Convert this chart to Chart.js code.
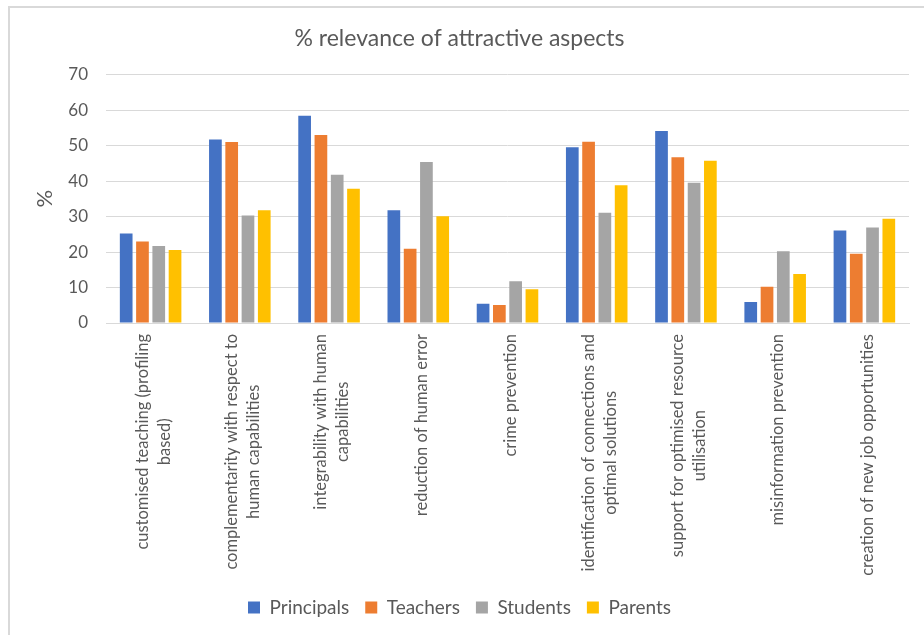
<!DOCTYPE html>
<html>
<head>
<meta charset="utf-8">
<script src="https://cdn.jsdelivr.net/npm/chart.js@4"></script>
<style>
  html, body { margin: 0; padding: 0; background: #ffffff; }
  #wrap { position: relative; width: 924px; height: 635px; overflow: hidden; }
  #frame { position: absolute; left: 8px; top: 6px; width: 1000px; height: 1000px; border-left: 2px solid #d9d9d9; border-top: 2px solid #d9d9d9; }
</style>
</head>
<body>
<div id="wrap">
  <div id="frame"></div>
  <canvas id="c" width="924" height="635" style="position:absolute;left:0;top:0;"></canvas>
</div>
<script>
const categories = [
  ["customised teaching (profiling", "based)"],
  ["complementarity with respect to", "human capabilities"],
  ["integrability with human", "capabilities"],
  ["reduction of human error"],
  ["crime prevention"],
  ["identification of connections and", "optimal solutions"],
  ["support for optimised resource", "utilisation"],
  ["misinformation prevention"],
  ["creation of new job opportunities"]
];
const principals = [25.2, 51.7, 58.4, 31.8, 5.4, 49.5, 54.1, 5.9, 26.1];
const teachers   = [23.0, 51.0, 53.0, 20.9, 5.1, 51.1, 46.7, 10.2, 19.5];
const students   = [21.7, 30.3, 41.8, 45.4, 11.8, 31.1, 39.5, 20.2, 26.9];
const parents    = [20.6, 31.8, 37.8, 30.1, 9.5, 38.8, 45.7, 13.8, 29.4];
const seriesNames = ["Principals", "Teachers", "Students", "Parents"];
const yTicks = [0, 10, 20, 30, 40, 50, 60, 70];
const chartTitle = "% relevance of attractive aspects";
const yTitle = "%";

const colors = ["#4472C4", "#ED7D31", "#A5A5A5", "#FFC000"];
const textColor = "#595959";
const FONT = "Lato, 'Open Sans', sans-serif";

const xLabelPlugin = {
  id: 'xLabels',
  afterDraw(chart) {
    const xs = chart.scales.x;
    const ctx = chart.ctx;
    const top = chart.chartArea.bottom + 11;
    const lh = 22;
    ctx.save();
    ctx.font = "16.5px " + FONT;
    ctx.fillStyle = textColor;
    ctx.textAlign = 'center';
    ctx.textBaseline = 'middle';
    categories.forEach((lines, i) => {
      const x = xs.getPixelForTick(i) + 3;
      const maxW = Math.max(...lines.map(l => ctx.measureText(l).width));
      ctx.save();
      ctx.translate(x, top);
      ctx.rotate(-Math.PI / 2);
      lines.forEach((l, k) => {
        ctx.fillText(l, -maxW / 2, (k - (lines.length - 1) / 2) * lh);
      });
      ctx.restore();
    });
    ctx.restore();
  }
};

const data = {
  labels: categories,
  datasets: [principals, teachers, students, parents].map((d, i) => ({
    label: seriesNames[i],
    data: d,
    backgroundColor: colors[i],
    borderWidth: 0,
    categoryPercentage: 0.73,
    barPercentage: 0.78
  }))
};

new Chart(document.getElementById('c'), {
  type: 'bar',
  data,
  plugins: [xLabelPlugin],
  options: {
    responsive: false,
    animation: false,
    layout: { padding: { left: 10, right: 15, top: 8, bottom: 8 } },
    plugins: {
      title: {
        display: true,
        text: chartTitle,
        color: textColor,
        font: { family: FONT, size: 23, weight: 'normal' },
        padding: { top: 17, bottom: 22 }
      },
      legend: {
        position: 'bottom',
        labels: {
          color: textColor,
          font: { family: FONT, size: 19 },
          boxWidth: 12,
          boxHeight: 12,
          padding: 16
        }
      },
      tooltip: { enabled: false }
    },
    scales: {
      x: {
        grid: { display: false },
        border: { display: true, color: '#d9d9d9' },
        ticks: { display: false },
        afterFit(scale) { scale.height = 259; }
      },
      y: {
        min: 0,
        max: 70,
        afterBuildTicks(scale) { scale.ticks = yTicks.map(v => ({ value: v })); },
        afterFit(scale) { scale.width = 96; },
        grid: { color: '#d9d9d9', drawTicks: false },
        border: { display: false },
        ticks: {
          color: textColor,
          font: { family: FONT, size: 17 },
          padding: 18
        },
        title: {
          display: true,
          text: yTitle,
          color: textColor,
          font: { family: FONT, size: 22 },
          padding: { top: 22, bottom: 0 }
        }
      }
    }
  }
});
</script>
</body>
</html>
